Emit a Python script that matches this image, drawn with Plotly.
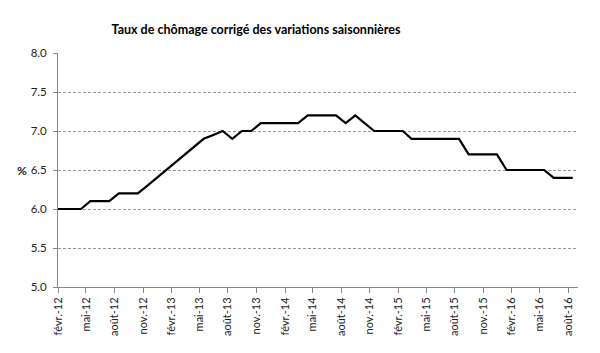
import pandas as pd
import plotly.graph_objects as go

# Monthly values, janv.-12 .. août-16 (janv.-12 is outside the visible range)
start_month = "2012-01"
rates = [6.0,
         6.0, 6.0, 6.0, 6.1, 6.1, 6.1, 6.2, 6.2, 6.2, 6.3, 6.4,   # févr.-12 .. déc.-12
         6.5, 6.6, 6.7, 6.8, 6.9, 6.95, 7.0, 6.9, 7.0, 7.0, 7.1, 7.1,  # janv.-13 .. déc.-13
         7.1, 7.1, 7.1, 7.2, 7.2, 7.2, 7.2, 7.1, 7.2, 7.1, 7.0, 7.0,   # janv.-14 .. déc.-14
         7.0, 7.0, 6.9, 6.9, 6.9, 6.9, 6.9, 6.9, 6.7, 6.7, 6.7, 6.7,   # janv.-15 .. déc.-15
         6.5, 6.5, 6.5, 6.5, 6.5, 6.4, 6.4, 6.4]                       # janv.-16 .. août-16

tick_dates = ["2012-02-01", "2012-05-01", "2012-08-01", "2012-11-01",
              "2013-02-01", "2013-05-01", "2013-08-01", "2013-11-01",
              "2014-02-01", "2014-05-01", "2014-08-01", "2014-11-01",
              "2015-02-01", "2015-05-01", "2015-08-01", "2015-11-01",
              "2016-02-01", "2016-05-01", "2016-08-01"]
tick_labels = ["févr.-12", "mai-12", "août-12", "nov.-12",
               "févr.-13", "mai-13", "août-13", "nov.-13",
               "févr.-14", "mai-14", "août-14", "nov.-14",
               "févr.-15", "mai-15", "août-15", "nov.-15",
               "févr.-16", "mai-16", "août-16"]

dates = pd.date_range(start_month + "-01", periods=len(rates), freq="MS") + pd.Timedelta(days=14)

font_family = "Lato, 'Open Sans', sans-serif"

fig = go.Figure()
fig.add_trace(go.Scatter(x=dates, y=rates, mode="lines",
                         line=dict(color="black", width=2.2),
                         hoverinfo="skip", showlegend=False))

fig.update_layout(
    width=600, height=353,
    margin=dict(l=58, r=22, t=53, b=66),
    paper_bgcolor="white", plot_bgcolor="white",
    font=dict(family=font_family, color="#222", size=11),
    title=dict(text="<b>Taux de chômage corrigé des variations saisonnières</b>",
               x=256 / 600, xanchor="center", y=1 - 30 / 353, yanchor="middle",
               font=dict(size=12.5, color="black", family=font_family)),
    xaxis=dict(type="date", range=["2012-02-01", "2016-09-01"],
               tickvals=tick_dates, ticktext=tick_labels, tickangle=-90,
               showgrid=False, showline=True, linecolor="#888", linewidth=1,
               ticks="outside", ticklen=5, tickcolor="#888",
               tickfont=dict(size=11, color="#222"), zeroline=False),
    yaxis=dict(range=[5.0, 8.0], dtick=0.5, tickformat=".1f",
               showgrid=True, gridcolor="#999", griddash="3px,2px", gridwidth=0.8,
               showline=True, linecolor="#888", linewidth=1,
               ticks="outside", ticklen=4, tickcolor="#888",
               ticklabelstandoff=4,
               tickfont=dict(size=11.5, color="#222"), zeroline=False),
    annotations=[dict(text="<b>%</b>", xref="paper", yref="y", x=-0.055, y=6.5,
                      xanchor="right", yanchor="middle", showarrow=False,
                      font=dict(size=12, color="#222", family=font_family))],
)

fig.write_html("out.html")
